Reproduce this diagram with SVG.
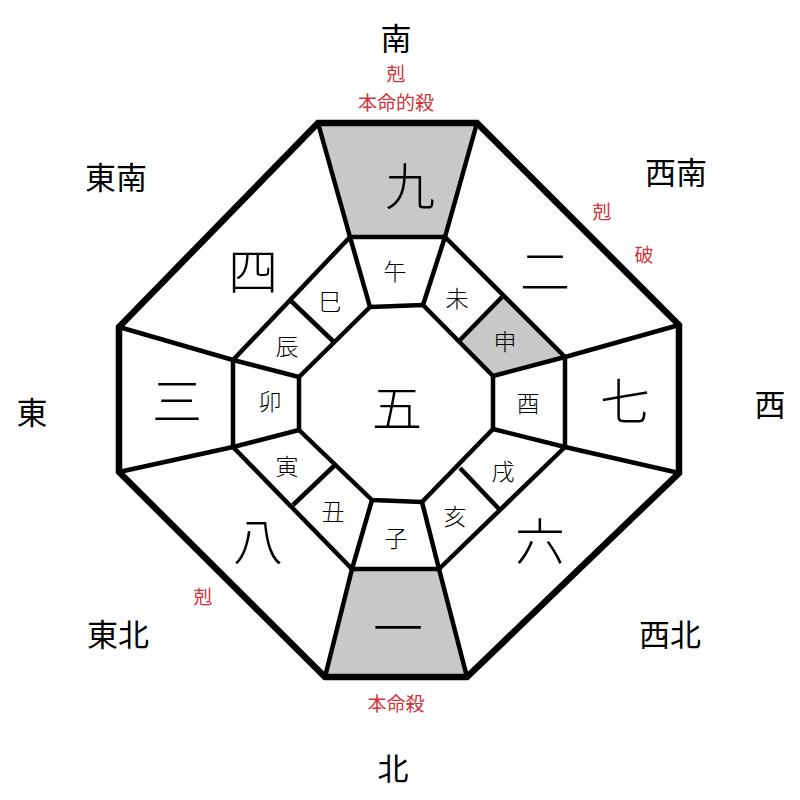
<svg xmlns="http://www.w3.org/2000/svg" width="800" height="800" viewBox="0 0 800 800">
<style>
text{font-family:"Noto Sans CJK JP","Noto Sans CJK SC",sans-serif;text-anchor:middle;dominant-baseline:central;fill:#000}
.big{font-size:50px;font-weight:300}
.cell{font-size:23px;font-weight:300}
.dir{font-size:31px}
.red{font-size:19px;fill:#d0343c}
.ln{stroke:#000;stroke-width:4.5;fill:none;stroke-linejoin:round}
.outer{stroke:#000;stroke-width:6.5;fill:none;stroke-linejoin:miter}
.gray{fill:#c8c8c8}
</style>
<rect width="800" height="800" fill="#fff"/>
<g id="fills">
<polygon class="gray" points="318,123 477,123 445,237 350,237"/>
<polygon class="gray" points="352,569 439,569 467,677 325,677"/>
<polygon class="gray" points="502,297 565,357 493,376 460,340"/>
</g>
<g id="connectors">
<polygon class="ln" points="350,237 445,237 565,357 565,447 439,569 352,569 233,447 233,360"/>
<polygon class="ln" points="370,307 423,305 493,376 493,429 422,502 372,500 299,430 299,377"/>
<line class="ln" x1="318" y1="123" x2="350" y2="237"/>
<line class="ln" x1="477" y1="123" x2="445" y2="237"/>
<line class="ln" x1="679" y1="325" x2="565" y2="357"/>
<line class="ln" x1="679" y1="473" x2="565" y2="447"/>
<line class="ln" x1="467" y1="677" x2="439" y2="569"/>
<line class="ln" x1="325" y1="677" x2="352" y2="569"/>
<line class="ln" x1="119" y1="472" x2="233" y2="447"/>
<line class="ln" x1="119" y1="327" x2="233" y2="360"/>
<line class="ln" x1="350" y1="237" x2="370" y2="307"/>
<line class="ln" x1="445" y1="237" x2="423" y2="305"/>
<line class="ln" x1="565" y1="357" x2="493" y2="376"/>
<line class="ln" x1="565" y1="447" x2="493" y2="429"/>
<line class="ln" x1="439" y1="569" x2="422" y2="502"/>
<line class="ln" x1="352" y1="569" x2="372" y2="500"/>
<line class="ln" x1="233" y1="447" x2="299" y2="430"/>
<line class="ln" x1="233" y1="360" x2="299" y2="377"/>
<line class="ln" x1="502" y1="297" x2="460" y2="340"/>
<line class="ln" x1="500" y1="510" x2="460" y2="468"/>
<line class="ln" x1="293" y1="505" x2="335" y2="465"/>
<line class="ln" x1="290" y1="300" x2="335" y2="343"/>
<polygon class="outer" points="318,123 477,123 679,325 679,473 467,677 325,677 119,472 119,327"/>
</g>
<g id="center"><text class="big" x="397" y="405">五</text></g>
<g id="n9"><text class="big" x="410" y="183">九</text></g>
<g id="n2"><text class="big" x="545" y="268">二</text></g>
<g id="n7"><text class="big" x="625" y="398">七</text></g>
<g id="n6"><text class="big" x="540" y="538">六</text></g>
<g id="n1"><text class="big" x="398" y="625">一</text></g>
<g id="n8"><text class="big" x="258" y="538">八</text></g>
<g id="n3"><text class="big" x="177" y="398">三</text></g>
<g id="n4"><text class="big" x="253" y="268">四</text></g>
<g id="cells">
<text class="cell" x="395" y="270">午</text>
<text class="cell" x="457" y="297">未</text>
<text class="cell" x="505" y="340">申</text>
<text class="cell" x="528" y="402">酉</text>
<text class="cell" x="503" y="470">戌</text>
<text class="cell" x="455" y="515">亥</text>
<text class="cell" x="396" y="537">子</text>
<text class="cell" x="333" y="510">丑</text>
<text class="cell" x="287" y="465">寅</text>
<text class="cell" x="270" y="400">卯</text>
<text class="cell" x="287" y="345">辰</text>
<text class="cell" x="330" y="300">巳</text>
</g>
<g id="directions">
<text class="dir" x="396" y="36">南</text>
<text class="dir" x="676" y="170">西南</text>
<text class="dir" x="770" y="402">西</text>
<text class="dir" x="670" y="632">西北</text>
<text class="dir" x="393" y="766">北</text>
<text class="dir" x="118" y="632">東北</text>
<text class="dir" x="32" y="410">東</text>
<text class="dir" x="116" y="175">東南</text>
</g>
<g id="labels">
<text class="red" x="396" y="72">剋</text>
<text class="red" x="396" y="101">本命的殺</text>
<text class="red" x="602" y="210">剋</text>
<text class="red" x="644" y="253">破</text>
<text class="red" x="203" y="595">剋</text>
<text class="red" x="396" y="702">本命殺</text>
</g>
</svg>
